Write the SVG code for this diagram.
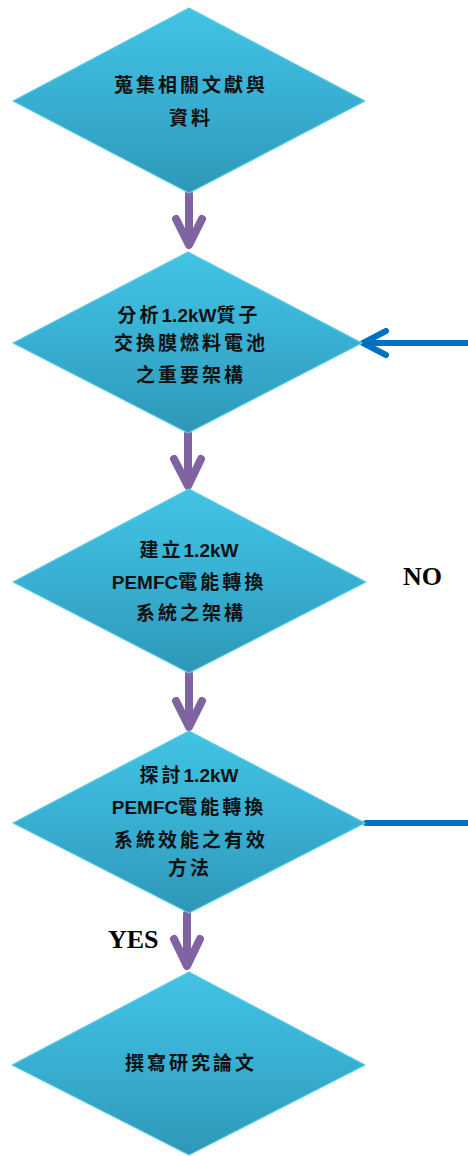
<svg xmlns="http://www.w3.org/2000/svg" width="468" height="1156" viewBox="0 0 468 1156">
<defs>
<linearGradient id="dg" x1="0" y1="0" x2="0" y2="1">
<stop offset="0" stop-color="#42C4E4"/>
<stop offset="0.5" stop-color="#38AFD2"/>
<stop offset="1" stop-color="#2F97B7"/>
</linearGradient>
<style>
.dia{fill:url(#dg);stroke:#5CCBE6;stroke-width:1.2;stroke-linejoin:round}
.t{font-family:"Noto Sans CJK TC","Liberation Sans",sans-serif;font-size:19px;font-weight:700;fill:#111;text-anchor:middle}
.c{letter-spacing:3px}
.l{font-family:"Liberation Sans","Noto Sans CJK TC",sans-serif;letter-spacing:0}
.pa{stroke:#8064A2;stroke-width:8;fill:none;stroke-linecap:round;stroke-linejoin:round}
.ba{stroke:#0070C0;stroke-width:6;fill:none;stroke-linecap:round;stroke-linejoin:round}
.lab{font-family:"Liberation Serif",serif;font-size:26px;font-weight:700;fill:#000}
</style>
</defs>
<g id="connectors">
<path class="pa" d="M189 194V244M176 219L189 245L202 219"/>
<path class="pa" d="M188 434V485M174 459L188 486L201 459"/>
<path class="pa" d="M189 674V725M176 701L189 727L202 701"/>
<path class="pa" d="M187 914V965M174 939L187 966L200 939"/>
<path class="ba" d="M468 343H364M386 331L363 343L386 355"/>
<path class="ba" d="M366 823H468" stroke-linecap="butt"/>
</g>
<g id="n1">
<polygon class="dia" points="189,8 365,101 189,193 13,101"/>
<text class="t" x="191" y="92"><tspan class="c">蒐集相關文獻與</tspan></text>
<text class="t" x="191" y="125"><tspan class="c">資料</tspan></text>
</g>
<g id="n2">
<polygon class="dia" points="188,252 362,343 188,433 13,343"/>
<text class="t" x="189" y="322"><tspan class="c">分析</tspan><tspan class="l">1.2kW</tspan><tspan class="c">質子</tspan></text>
<text class="t" x="191" y="350"><tspan class="c">交換膜燃料電池</tspan></text>
<text class="t" x="191" y="382"><tspan class="c">之重要架構</tspan></text>
</g>
<g id="n3">
<polygon class="dia" points="189,489 366,582 189,673 13,582"/>
<text class="t" x="189" y="557"><tspan class="c">建立</tspan><tspan class="l">1.2kW</tspan></text>
<text class="t" x="189" y="589"><tspan class="l">PEMFC</tspan><tspan class="c">電能轉換</tspan></text>
<text class="t" x="191" y="620"><tspan class="c">系統之架構</tspan></text>
</g>
<g id="n4">
<polygon class="dia" points="189,731 365,823 189,913 13,823"/>
<text class="t" x="189" y="782"><tspan class="c">探討</tspan><tspan class="l">1.2kW</tspan></text>
<text class="t" x="189" y="814"><tspan class="l">PEMFC</tspan><tspan class="c">電能轉換</tspan></text>
<text class="t" x="191" y="847"><tspan class="c">系統效能之有效</tspan></text>
<text class="t" x="190" y="875"><tspan class="c">方法</tspan></text>
</g>
<g id="n5">
<polygon class="dia" points="189,972 365,1065 189,1155 12,1065"/>
<text class="t" x="191" y="1070"><tspan class="c">撰寫研究論文</tspan></text>
</g>
<text class="lab" x="403" y="585">NO</text>
<text class="lab" x="108" y="948">YES</text>
</svg>
